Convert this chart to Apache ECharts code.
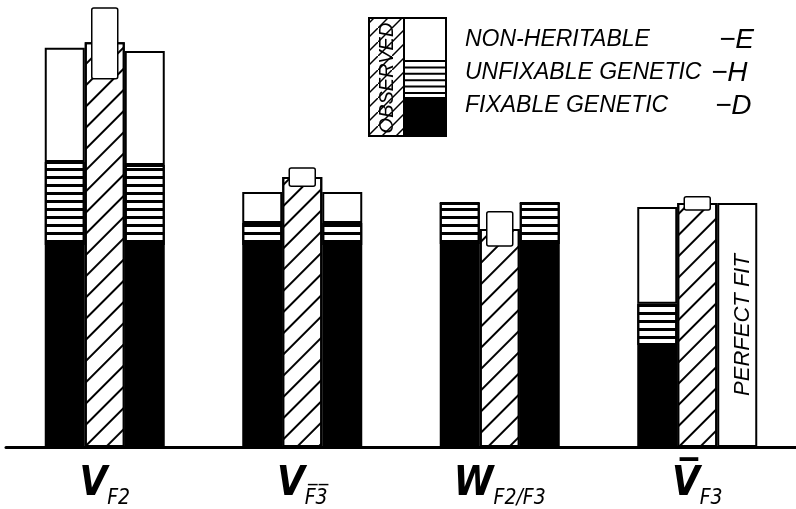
<!DOCTYPE html>
<html>
<head>
<meta charset="utf-8">
<script src="https://cdn.jsdelivr.net/npm/echarts@6/dist/echarts.min.js"></script>
<style>
  html, body { margin: 0; padding: 0; background: #fff; }
  #chart { width: 796px; height: 509px; }
</style>
</head>
<body>
<div id="chart"></div>
<script>
// groups along the bottom
const groups = ['VF2', 'VF3bar', 'WF2F3', 'VbarF3'];

// expected components, left bar of each group
const leftD = [45.7, 45.7, 45.9, 23.1];
const leftH = [18.8, 5.0, 9.3, 9.3];
const leftE = [25.8, 7.0, 0, 21.9];

// expected components, right bar (last group = perfect fit)
const rightD = [45.7, 45.7, 45.9, 0];
const rightH = [18.1, 5.0, 9.3, 0];
const rightE = [25.8, 7.0, 0, 55.2];

// observed (centre, hatched) and its error box
const observed = [91.6, 61.1, 49.3, 55.2];
const obsLow = [83.3, 59.0, 45.5, 53.6];
const obsHigh = [99.3, 63.1, 53.2, 56.6];

const chart = echarts.init(document.getElementById('chart'));

const border = { borderColor: '#000', borderWidth: 2 };
const stripes = {
  symbol: 'rect', symbolSize: 1, color: '#000',
  dashArrayX: [1, 0], dashArrayY: [2.2, 4.5]
};
const hatch = {
  symbol: 'rect', symbolSize: 1, color: '#000',
  dashArrayX: [1, 0], dashArrayY: [1.6, 12.5], rotation: -Math.PI / 4
};

// hatch pattern for the legend box
const pat = document.createElement('canvas');
pat.width = 14; pat.height = 14;
const pc = pat.getContext('2d');
pc.fillStyle = '#fff'; pc.fillRect(0, 0, 14, 14);
pc.strokeStyle = '#000'; pc.lineWidth = 1.5;
pc.beginPath();
pc.moveTo(-2, 16); pc.lineTo(16, -2);
pc.stroke();

const labelFont = 'DejaVu Sans Condensed, DejaVu Sans';
const labelRich = {
  v: { fontFamily: labelFont, fontWeight: 'bold', fontStyle: 'italic', fontSize: 40, color: '#000', verticalAlign: 'bottom', padding: [0, 0, 4, 0] },
  s: { fontFamily: labelFont, fontStyle: 'italic', fontSize: 21, color: '#000', verticalAlign: 'bottom' }
};
const labelText = {
  VF2: '{v|V}{s|F2}',
  VF3bar: '{v|V}{s|F\u03053\u0305}',
  WF2F3: '{v|W}{s|F2/F3}',
  VbarF3: '{v|V\u0305}{s|F3}'
};

const legendLines = [];
for (let i = 0; i < 6; i++) {
  legendLines.push({
    type: 'line', shape: { x1: 404, y1: 61 + i * 6.4, x2: 446, y2: 61 + i * 6.4 },
    style: { stroke: '#000', lineWidth: 2 }, z: 10
  });
}
const legendFont = 'italic 23px "Liberation Sans", sans-serif';
const letterFont = 'italic 28px "Liberation Sans", sans-serif';

const option = {
  animation: false,
  backgroundColor: '#fff',
  grid: { left: 6, width: 792, top: 5, bottom: 62 },
  xAxis: {
    type: 'category',
    data: groups,
    axisLine: { lineStyle: { color: '#000', width: 3 } },
    axisTick: { show: false },
    axisLabel: {
      margin: 18,
      formatter: v => labelText[v],
      rich: labelRich
    }
  },
  yAxis: { type: 'value', min: 0, max: 100, show: false, splitLine: { show: false } },
  series: [
    { type: 'bar', stack: 'L', barWidth: 40, barGap: '0%', data: leftD, itemStyle: { color: '#000', ...border } },
    { type: 'bar', stack: 'L', data: leftH, itemStyle: { color: '#fff', decal: stripes, ...border } },
    { type: 'bar', stack: 'L', data: leftE, itemStyle: { color: '#fff', ...border } },
    { type: 'bar', stack: 'C', barWidth: 40, data: observed, itemStyle: { color: '#fff', decal: hatch, ...border } },
    { type: 'bar', stack: 'R', barWidth: 40, data: rightD, itemStyle: { color: '#000', ...border } },
    { type: 'bar', stack: 'R', data: rightH, itemStyle: { color: '#fff', decal: stripes, ...border } },
    {
      type: 'bar', stack: 'R', itemStyle: { color: '#fff', ...border },
      data: rightE.map((v, i) => i === 3 ? {
        value: v,
        label: {
          show: true, position: 'inside', rotate: 90, formatter: 'PERFECT FIT',
          fontFamily: 'Liberation Sans', fontStyle: 'italic', fontSize: 22, color: '#000', offset: [0, 6]
        }
      } : v)
    },
    {
      type: 'custom', z: 5,
      data: groups.map((g, i) => [i, obsLow[i], obsHigh[i]]),
      renderItem: (params, api) => {
        const top = api.coord([api.value(0), api.value(2)]);
        const bot = api.coord([api.value(0), api.value(1)]);
        return {
          type: 'rect',
          shape: { x: top[0] - 13, y: top[1], width: 26, height: bot[1] - top[1], r: 2 },
          style: { fill: '#fff', stroke: '#000', lineWidth: 1.5 }
        };
      }
    }
  ],
  graphic: [
    { type: 'rect', shape: { x: 369, y: 18, width: 35, height: 118 }, style: { fill: { image: pat, repeat: 'repeat' } }, z: 10 },
    { type: 'rect', shape: { x: 404, y: 18, width: 42, height: 79 }, style: { fill: '#fff' }, z: 10 },
    ...legendLines,
    { type: 'rect', shape: { x: 404, y: 97, width: 42, height: 39 }, style: { fill: '#000' }, z: 10 },
    { type: 'rect', shape: { x: 369, y: 18, width: 77, height: 118 }, style: { fill: 'none', stroke: '#000', lineWidth: 2 }, z: 11 },
    { type: 'line', shape: { x1: 404, y1: 18, x2: 404, y2: 136 }, style: { stroke: '#000', lineWidth: 2 }, z: 11 },
    {
      type: 'text', x: 387, y: 78, rotation: Math.PI / 2, z: 12,
      style: { text: 'OBSERVED', font: 'italic 20px "Liberation Sans", sans-serif', fill: '#000', align: 'center', verticalAlign: 'middle' }
    },
    { type: 'text', x: 465, y: 40, style: { text: 'NON-HERITABLE', font: legendFont, fill: '#000', verticalAlign: 'middle' } },
    { type: 'text', x: 465, y: 73, style: { text: 'UNFIXABLE GENETIC', font: legendFont, fill: '#000', verticalAlign: 'middle' } },
    { type: 'text', x: 465, y: 106, style: { text: 'FIXABLE GENETIC', font: legendFont, fill: '#000', verticalAlign: 'middle' } },
    { type: 'text', x: 719, y: 40, style: { text: '\u2212E', font: letterFont, fill: '#000', verticalAlign: 'middle' } },
    { type: 'text', x: 711, y: 73, style: { text: '\u2212H', font: letterFont, fill: '#000', verticalAlign: 'middle' } },
    { type: 'text', x: 715, y: 106, style: { text: '\u2212D', font: letterFont, fill: '#000', verticalAlign: 'middle' } }
  ]
};
chart.setOption(option);
</script>
</body>
</html>
